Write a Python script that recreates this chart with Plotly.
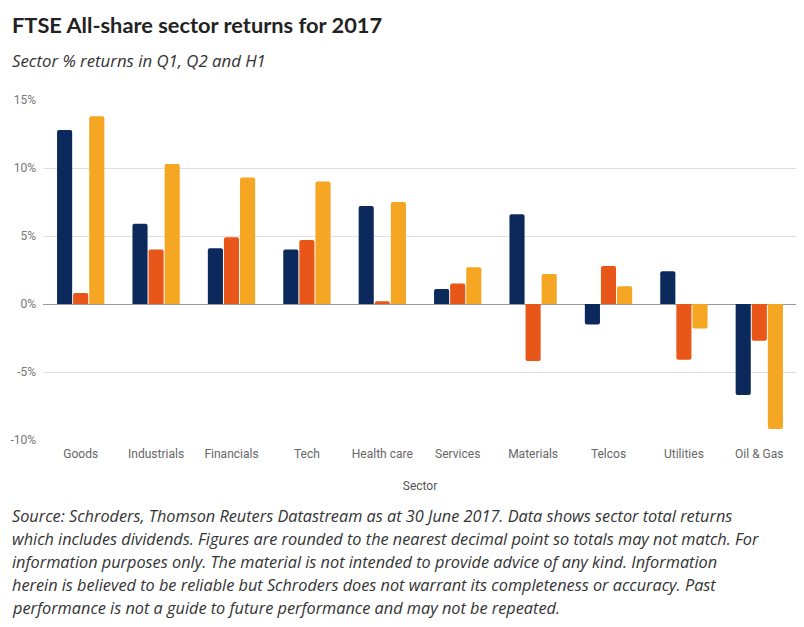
import plotly.graph_objects as go

sectors = ["Goods", "Industrials", "Financials", "Tech", "Health care",
           "Services", "Materials", "Telcos", "Utilities", "Oil & Gas"]
q1 = [12.8, 5.9, 4.1, 4.0, 7.2, 1.1, 6.6, -1.5, 2.4, -6.7]
q2 = [0.8, 4.0, 4.9, 4.7, 0.2, 1.5, -4.2, 2.8, -4.1, -2.7]
h1 = [13.8, 10.3, 9.3, 9.0, 7.5, 2.7, 2.2, 1.3, -1.8, -9.2]
series_names = ["Q1", "Q2", "H1"]
colors = ["#0b2a5b", "#e8561a", "#f5a623"]
y_ticks = [-10, -5, 0, 5, 10, 15]

fig = go.Figure()
for name, vals, col in zip(series_names, [q1, q2, h1], colors):
    fig.add_trace(go.Bar(x=sectors, y=vals, name=name, marker=dict(color=col, line=dict(width=0))))

# title and subtitle
fig.add_annotation(x=0, y=1, xref="paper", yref="paper", xshift=-33, yshift=60,
                   text="<b>FTSE All-share sector returns for 2017</b>", showarrow=False,
                   xanchor="left", yanchor="bottom",
                   font=dict(family="Lato, Noto Sans, sans-serif", size=21.8, color="#222222"))
fig.add_annotation(x=0, y=1, xref="paper", yref="paper", xshift=-33, yshift=26,
                   text="<i>Sector % returns in Q1, Q2 and H1</i>", showarrow=False,
                   xanchor="left", yanchor="bottom",
                   font=dict(family="Open Sans, sans-serif", size=16.8, color="#333333"))

# footnote, one line per annotation to keep the wide line spacing
footnote = ["Source: Schroders, Thomson Reuters Datastream as at 30 June 2017. Data shows sector total returns",
            "which includes dividends. Figures are rounded to the nearest decimal point so totals may not match. For",
            "information purposes only. The material is not intended to provide advice of any kind. Information",
            "herein is believed to be reliable but Schroders does not warrant its completeness or accuracy. Past",
            "performance is not a guide to future performance and may not be repeated."]
for i, line in enumerate(footnote):
    fig.add_annotation(x=0, y=0, xref="paper", yref="paper", xshift=-33, yshift=-76 - 23 * i,
                       text="<i>" + line + "</i>", showarrow=False, align="left",
                       xanchor="left", yanchor="middle",
                       font=dict(family="Open Sans, sans-serif", size=16.3, color="#333333"))

fig.update_layout(
    width=804, height=627,
    margin=dict(l=35, r=15, t=92, b=195),
    barmode="group", bargap=0.36, bargroupgap=0.06, barcornerradius=2,
    showlegend=False,
    plot_bgcolor="white", paper_bgcolor="white",
    font=dict(family="Roboto, sans-serif", color="#666666"),
    xaxis=dict(title=dict(text="Sector", font=dict(size=12, color="#555555"), standoff=21),
               tickfont=dict(size=12, color="#666666"), showgrid=False, ticks="",
               ticklabelstandoff=5, automargin=False),
    yaxis=dict(range=[-10, 15], tickvals=y_ticks, ticktext=[f"{t}%" for t in y_ticks],
               tickfont=dict(size=12, color="#777777"), gridcolor="#e0e0e0", gridwidth=1,
               zeroline=True, zerolinecolor="#999999", zerolinewidth=1,
               ticklabelstandoff=6, automargin=False),
)

fig.write_html("out.html")
